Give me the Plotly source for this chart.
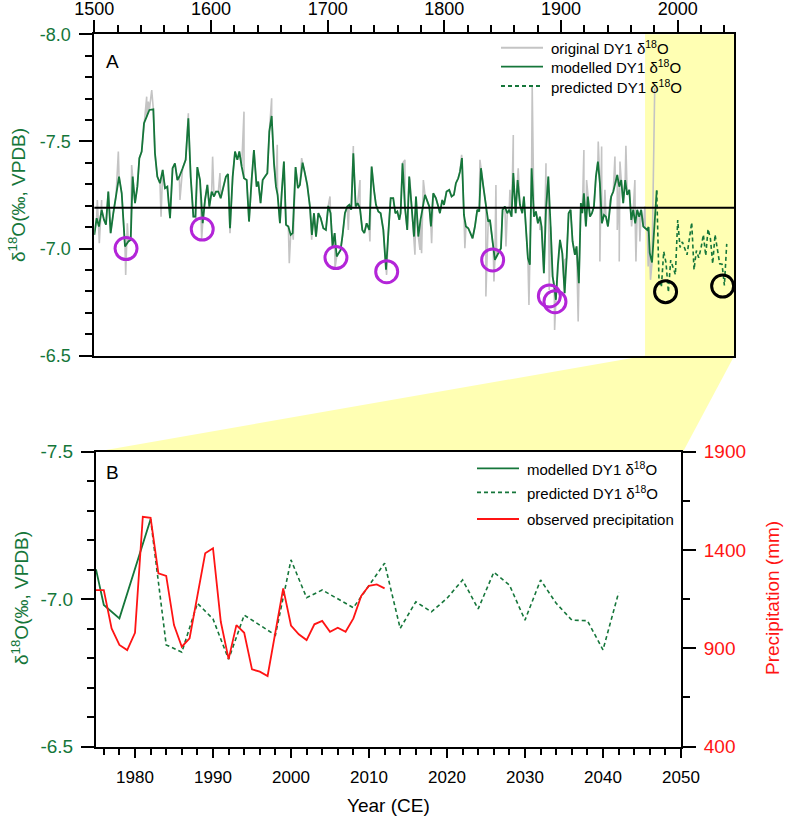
import plotly.graph_objects as go

# ---------------- data ----------------
# Panel A: modelled DY1 d18O (green solid)
model_years = [1500.0, 1502.0, 1504.0, 1506.3, 1508.3, 1510.0, 1512.0, 1514.0, 1516.3, 1518.6,
               1521.2, 1523.5, 1526.3, 1529.2, 1531.2, 1532.9, 1534.9, 1536.9, 1538.6, 1540.6,
               1542.6, 1544.9, 1547.2, 1550.6, 1552.0, 1554.0, 1556.3, 1558.6, 1560.6, 1562.6,
               1564.9, 1567.1, 1569.1, 1571.2, 1572.9, 1575.7, 1578.3, 1580.6, 1582.6, 1584.9,
               1586.6, 1588.3, 1590.6, 1592.9, 1594.9, 1596.9, 1598.6, 1600.6, 1602.6, 1604.3,
               1606.3, 1608.3, 1610.6, 1612.8, 1614.6, 1616.3, 1618.6, 1620.6, 1622.6, 1624.3,
               1626.3, 1628.3, 1630.6, 1632.6, 1634.8, 1636.8, 1639.1, 1640.5, 1642.5, 1644.3,
               1646.3, 1648.3, 1650.0, 1652.0, 1654.0, 1655.7, 1657.1, 1659.1, 1660.6, 1662.5,
               1664.3, 1666.3, 1668.3, 1670.0, 1672.5, 1674.5, 1676.2, 1678.5, 1680.5, 1682.5,
               1684.8, 1686.5, 1688.3, 1690.0, 1692.0, 1694.0, 1696.3, 1698.5, 1700.5, 1702.5,
               1704.2, 1706.0, 1707.7, 1709.4, 1711.1, 1712.8, 1714.8, 1716.8, 1718.5, 1720.2,
               1722.0, 1724.0, 1725.7, 1727.7, 1729.7, 1731.4, 1733.4, 1735.7, 1737.7, 1739.7,
               1741.4, 1743.4, 1745.4, 1747.7, 1750.0, 1752.0, 1754.0, 1756.2, 1758.0, 1759.7,
               1761.4, 1762.5, 1764.2, 1766.2, 1768.2, 1769.9, 1772.0, 1774.0, 1775.7, 1777.7,
               1779.6, 1781.4, 1783.4, 1787.1, 1788.5, 1790.5, 1792.8, 1794.8, 1796.2, 1798.2,
               1799.7, 1801.9, 1804.2, 1806.2, 1808.2, 1809.9, 1811.9, 1813.4, 1815.1, 1816.8,
               1818.5, 1820.5, 1822.5, 1824.2, 1826.2, 1828.2, 1829.9, 1831.4, 1833.4, 1835.6,
               1837.6, 1839.1, 1840.5, 1841.9, 1843.3, 1844.8, 1846.8, 1848.5, 1849.9, 1851.9,
               1853.9, 1855.6, 1857.6, 1859.1, 1861.1, 1862.8, 1864.8, 1866.8, 1868.2, 1869.9,
               1871.6, 1873.3, 1874.8, 1876.8, 1878.5, 1880.2, 1881.9, 1883.3, 1885.3, 1887.1,
               1889.1, 1891.1, 1892.8, 1894.2, 1895.6, 1897.3, 1899.1, 1901.1, 1903.1, 1904.8,
               1906.5, 1908.2, 1909.9, 1911.9, 1913.3, 1915.3, 1917.0, 1918.2, 1919.6, 1921.3,
               1923.0, 1924.8, 1926.5, 1928.2, 1929.9, 1931.6, 1933.3, 1935.0, 1936.8, 1938.5,
               1940.2, 1941.3, 1943.0, 1944.8, 1946.5, 1948.2, 1949.9, 1951.6, 1953.3, 1955.0,
               1956.7, 1958.5, 1960.2, 1961.9, 1963.6, 1965.3, 1967.0, 1968.7, 1970.5, 1972.2,
               1973.9, 1975.0, 1976.0, 1978.0, 1982.0]
model_vals = [-7.064, -7.142, -7.103, -7.181, -7.134, -7.111, -7.266, -7.072, -7.165, -7.243,
              -7.336, -7.258, -7.010, -7.033, -7.041, -7.336, -7.212, -7.289, -7.422, -7.453,
              -7.585, -7.616, -7.647, -7.650, -7.445, -7.336, -7.305, -7.367, -7.282, -7.289,
              -7.142, -7.375, -7.398, -7.320, -7.336, -7.375, -7.414, -7.608, -7.336, -7.149,
              -7.149, -7.380, -7.320, -7.118, -7.227, -7.297, -7.196, -7.266, -7.243, -7.266,
              -7.266, -7.235, -7.289, -7.336, -7.348, -7.095, -7.336, -7.453, -7.414, -7.453,
              -7.383, -7.328, -7.320, -7.126, -7.320, -7.460, -7.289, -7.313, -7.212, -7.320,
              -7.336, -7.352, -7.546, -7.619, -7.398, -7.289, -7.251, -7.118, -7.258, -7.406,
              -7.111, -7.103, -7.064, -7.072, -7.380, -7.282, -7.297, -7.401, -7.352, -7.297,
              -7.196, -7.064, -7.165, -7.056, -7.165, -7.142, -7.095, -7.087, -7.199, -7.165,
              -7.010, -7.072, -6.963, -6.978, -6.994, -7.064, -7.165, -7.196, -7.204, -7.181,
              -7.445, -7.196, -7.212, -7.188, -7.087, -7.072, -7.118, -7.087, -7.383, -7.274,
              -7.204, -7.173, -7.165, -7.087, -6.901, -7.072, -7.235, -7.235, -7.165, -7.173,
              -7.134, -7.165, -7.398, -7.196, -7.087, -7.336, -7.196, -7.056, -7.243, -7.056,
              -7.134, -7.196, -7.251, -7.196, -7.103, -7.258, -7.235, -7.196, -7.165, -7.227,
              -7.204, -7.266, -7.274, -7.243, -7.251, -7.305, -7.328, -7.359, -7.422, -7.157,
              -7.103, -7.095, -7.072, -7.048, -7.103, -7.181, -7.173, -7.375, -7.289, -7.204,
              -7.126, -7.134, -7.064, -7.002, -6.947, -6.963, -6.986, -7.002, -7.181, -7.196,
              -7.165, -7.181, -7.149, -7.352, -7.165, -7.320, -7.204, -7.165, -7.243, -7.072,
              -6.955, -6.924, -7.375, -7.149, -7.173, -7.118, -7.149, -7.103, -6.885, -7.181,
              -7.336, -7.103, -6.870, -6.823, -6.761, -6.924, -7.041, -6.978, -6.792, -6.955,
              -7.165, -7.181, -7.033, -6.971, -7.010, -6.838, -7.212, -7.165, -7.258, -7.103,
              -7.243, -7.149, -7.165, -7.196, -7.336, -7.406, -7.305, -7.118, -7.157, -7.149,
              -7.103, -7.157, -7.243, -7.266, -7.305, -7.344, -7.289, -7.320, -7.212, -7.320,
              -7.251, -7.274, -7.134, -7.181, -7.118, -7.181, -7.149, -7.181, -7.103, -7.095,
              -7.087, -7.101, -6.980, -6.935, -7.271]

# Panel A: readings where the original (grey) record departs from the modelled curve
orig_extra_years = [1502.6, 1504.3, 1506.3, 1520.6, 1526.9, 1528.3, 1532.0, 1544.9, 1546.3, 1549.2,
                    1550.6, 1557.2, 1573.4, 1580.6, 1587.1, 1592.0, 1601.4, 1607.7, 1616.3, 1628.3,
                    1652.0, 1656.8, 1667.1, 1670.5, 1677.7, 1686.3, 1702.0, 1706.3, 1717.7, 1722.0,
                    1727.7, 1736.2, 1750.5, 1766.2, 1770.5, 1774.8, 1779.1, 1780.5, 1782.0, 1789.1,
                    1814.8, 1817.6, 1830.5, 1835.6, 1842.5, 1844.2, 1852.8, 1856.2, 1859.1, 1863.3,
                    1872.5, 1875.3, 1881.9, 1887.1, 1889.9, 1894.5, 1903.3, 1914.7, 1919.6, 1921.9,
                    1931.9, 1933.3, 1934.8, 1937.6, 1941.9, 1946.2, 1948.2, 1949.9, 1950.5, 1955.6,
                    1960.5, 1963.3, 1964.2, 1967.6, 1971.9, 1974.7, 1976.7, 1980.3]
orig_extra_vals = [-7.227, -7.025, -7.227, -7.453, -6.877, -7.118, -7.390, -7.709, -7.686, -7.740,
                   -7.639, -7.149, -7.227, -7.631, -7.134, -7.041, -7.429, -7.352, -7.072, -7.639,
                   -7.701, -7.484, -6.932, -7.041, -7.422, -7.041, -7.243, -6.908, -7.087, -7.479,
                   -7.320, -7.033, -6.877, -7.414, -7.320, -6.971, -6.994, -6.978, -7.320, -7.025,
                   -7.437, -7.002, -7.414, -6.776, -6.846, -7.297, -7.010, -7.274, -7.530, -7.375,
                   -6.737, -7.756, -7.087, -7.398, -6.807, -6.620, -6.947, -6.660, -7.460, -7.320,
                   -7.500, -6.940, -7.476, -7.274, -7.227, -7.430, -7.087, -6.940, -7.406, -7.480,
                   -7.103, -7.320, -6.940, -7.033, -7.196, -6.916, -6.854, -7.750]

# Predicted DY1 d18O (green dashed), shared by both panels
pred_years = [1982, 1984, 1986, 1988, 1990, 1992, 1994, 1998, 2000, 2002, 2004, 2008, 2012, 2014,
              2016, 2018, 2020, 2022, 2024, 2026, 2028, 2030, 2032, 2034, 2036, 2038, 2040, 2042]
pred_vals = [-7.271, -6.845, -6.820, -6.986, -6.933, -6.796, -6.946, -6.878, -7.133, -7.005,
             -7.031, -6.971, -7.122, -6.901, -6.991, -6.957, -7.003, -7.065, -6.967, -7.091,
             -7.048, -6.929, -7.065, -6.986, -6.929, -6.927, -6.828, -7.022]

# Panel B: modelled d18O over the instrumental period
model_b_years = [1975, 1976, 1978, 1982]
model_b_vals = [-7.101, -6.980, -6.935, -7.271]

# Panel B: observed precipitation (mm)
obs_years = [1975, 1976, 1977, 1978, 1979, 1980, 1981, 1982, 1983, 1984, 1985, 1986, 1987, 1989,
             1990, 1991, 1992, 1993, 1994, 1995, 1996, 1997, 1999, 2000, 2001, 2002, 2003, 2004,
             2005, 2006, 2007, 2008, 2009, 2010, 2011, 2012]
obs_precip = [1196, 1196, 1001, 917, 891, 979, 1569, 1564, 1281, 1268, 1018, 908, 951, 1383,
              1409, 1035, 845, 1018, 979, 793, 781, 759, 1205, 1016, 971, 942, 1022, 1039,
              984, 1005, 984, 1052, 1166, 1218, 1225, 1205]

# Mean of the record (horizontal reference line), highlighted minima
mean_value = -7.19
min_circle_years = [1527.2, 1592.5, 1707.1, 1750.6, 1841.4, 1890.0, 1894.8]
min_circle_vals = [-7.000, -7.091, -6.958, -6.892, -6.947, -6.779, -6.752]
pred_circle_years = [1989.6, 2038.5]
pred_circle_vals = [-6.799, -6.825]

# Zoom window shown in panel B
window_start_a = 1972
a_x_range = [1500, 2048.5]
a_y_ticks = [-8.0, -7.5, -7.0, -6.5]
a_x_ticks = [1500, 1600, 1700, 1800, 1900, 2000]
b_x_range = [1975, 2050]
b_x_ticks = [1980, 1990, 2000, 2010, 2020, 2030, 2040, 2050]
b_y_ticks = [-7.5, -7.0, -6.5]
b_p_ticks = [400, 900, 1400, 1900]

# ---------------- styling ----------------
W, H = 787, 827
GREEN = "#15763a"
RED = "#ff1414"
GREY = "#c4c4c4"
PURPLE = "#b325d8"
YELLOW = "#ffffb3"
FONT = "Liberation Sans, Arial, sans-serif"
DASH = "4px,3px"

# plot areas in window pixels (left, right, top, bottom)
A_L, A_R, A_T, A_B = 94.3, 734.3, 34.3, 355.7
B_L, B_R, B_T, B_B = 96.0, 681.0, 451.7, 746.6

def px_x(p):
    return p / W

def px_y(p):
    return 1 - p / H

# grey record: modelled readings plus the departures
orig_pairs = sorted(list(zip(model_years[:-1], model_vals[:-1])) + list(zip(orig_extra_years, orig_extra_vals)))
orig_years = [p[0] for p in orig_pairs]
orig_vals = [p[1] for p in orig_pairs]

fig = go.Figure()

# ---- Panel A ----
fig.add_trace(go.Scatter(x=orig_years, y=orig_vals, mode="lines", line=dict(color=GREY, width=1.6),
                         xaxis="x", yaxis="y", showlegend=False, name="original DY1 δ18O"))
fig.add_trace(go.Scatter(x=model_years, y=model_vals, mode="lines", line=dict(color=GREEN, width=1.8),
                         xaxis="x", yaxis="y", showlegend=False, name="modelled DY1 δ18O"))
fig.add_trace(go.Scatter(x=pred_years, y=pred_vals, mode="lines", line=dict(color=GREEN, width=1.6, dash=DASH),
                         xaxis="x", yaxis="y", showlegend=False, name="predicted DY1 δ18O"))
fig.add_trace(go.Scatter(x=min_circle_years, y=min_circle_vals, mode="markers",
                         marker=dict(symbol="circle-open", size=22, color=PURPLE, line=dict(width=3, color=PURPLE)),
                         xaxis="x", yaxis="y", showlegend=False))
fig.add_trace(go.Scatter(x=pred_circle_years, y=pred_circle_vals, mode="markers",
                         marker=dict(symbol="circle-open", size=22, color="black", line=dict(width=3, color="black")),
                         xaxis="x", yaxis="y", showlegend=False))

# ---- Panel B ----
fig.add_trace(go.Scatter(x=model_b_years, y=model_b_vals, mode="lines", line=dict(color=GREEN, width=1.8),
                         xaxis="x2", yaxis="y2", showlegend=False))
fig.add_trace(go.Scatter(x=pred_years, y=pred_vals, mode="lines", line=dict(color=GREEN, width=1.6, dash=DASH),
                         xaxis="x2", yaxis="y2", showlegend=False))
fig.add_trace(go.Scatter(x=obs_years, y=obs_precip, mode="lines", line=dict(color=RED, width=1.8),
                         xaxis="x2", yaxis="y3", showlegend=False))

axis_common = dict(showline=True, linecolor="black", linewidth=2, showgrid=False, zeroline=False,
                   ticks="outside", tickcolor="black", tickwidth=1.5, automargin=False)

fig.update_layout(
    width=W, height=H, margin=dict(l=0, r=0, t=0, b=0, autoexpand=False),
    paper_bgcolor="white", plot_bgcolor="rgba(0,0,0,0)",
    font=dict(family=FONT, color="black"),
    xaxis=dict(**axis_common, domain=[px_x(A_L), px_x(A_R)], range=a_x_range, side="top", anchor="y",
               mirror=True, tickvals=a_x_ticks, ticktext=[str(v) for v in a_x_ticks], ticklen=12,
               ticklabelstandoff=-2, tickfont=dict(size=18, color="black"),
               minor=dict(dtick=20, tick0=1500, ticklen=7, ticks="outside", tickcolor="black", tickwidth=1.5)),
    yaxis=dict(**axis_common, domain=[px_y(A_B), px_y(A_T)], range=[-6.5, -8.0], anchor="x", mirror=True,
               tickvals=a_y_ticks, ticktext=[f"{v:.1f}" for v in a_y_ticks], ticklen=13,
               ticklabelstandoff=5, tickfont=dict(size=18, color=GREEN),
               minor=dict(dtick=0.1, tick0=-8.0, ticklen=7, ticks="outside", tickcolor="black", tickwidth=1.5)),
    xaxis2=dict(**axis_common, domain=[px_x(B_L), px_x(B_R)], range=b_x_range, anchor="y2", mirror=True,
                tickvals=b_x_ticks, ticktext=[str(v) for v in b_x_ticks], ticklen=9,
                ticklabelstandoff=5, tickfont=dict(size=17, color="black"),
                minor=dict(dtick=2, tick0=1976, ticklen=6, ticks="outside", tickcolor="black", tickwidth=1.5)),
    yaxis2=dict(**axis_common, domain=[px_y(B_B), px_y(B_T)], range=[-6.5, -7.5], anchor="x2",
                tickvals=b_y_ticks, ticktext=[f"{v:.1f}" for v in b_y_ticks], ticklen=13,
                ticklabelstandoff=4, tickfont=dict(size=19, color=GREEN),
                minor=dict(dtick=0.1, tick0=-7.5, ticklen=7, ticks="outside", tickcolor="black", tickwidth=1.5)),
    yaxis3=dict(**axis_common, domain=[px_y(B_B), px_y(B_T)], range=[400, 1900], anchor="x2",
                overlaying="y2", side="right",
                tickvals=b_p_ticks, ticktext=[str(v) for v in b_p_ticks], ticklen=13,
                ticklabelstandoff=4, tickfont=dict(size=19, color=RED),
                minor=dict(dtick=250, tick0=400, ticklen=7, ticks="outside", tickcolor="black", tickwidth=1.5)),
)

shapes = []
# yellow window in panel A
shapes.append(dict(type="rect", xref="x", yref="y domain", x0=window_start_a, x1=a_x_range[1], y0=0, y1=1,
                   fillcolor=YELLOW, line=dict(width=0), layer="below"))
# mean line
shapes.append(dict(type="line", xref="x domain", yref="y", x0=0, x1=1, y0=mean_value, y1=mean_value,
                   line=dict(color="black", width=2)))
# connecting trapezoid between the panels
ax_frac = (window_start_a - a_x_range[0]) / (a_x_range[1] - a_x_range[0])
xa0 = px_x(A_L) + ax_frac * (px_x(A_R) - px_x(A_L))
path = (f"M {xa0},{px_y(A_B)} L {px_x(A_R)},{px_y(A_B)} L {px_x(B_R + 2)},{px_y(B_T)} "
        f"L {px_x(B_L)},{px_y(B_T)} Z")
shapes.append(dict(type="path", xref="paper", yref="paper", path=path, fillcolor=YELLOW,
                   line=dict(width=0), layer="below"))

# legends drawn as short sample lines
def legend_line(x0, x1, y, color, dash="solid", width=1.8):
    return dict(type="line", xref="paper", yref="paper", x0=px_x(x0), x1=px_x(x1), y0=px_y(y), y1=px_y(y),
                line=dict(color=color, width=width, dash=dash))

shapes += [legend_line(501, 543, 47.7, GREY, width=2),
           legend_line(501, 543, 66.7, GREEN),
           legend_line(501, 543, 86, GREEN, dash=DASH),
           legend_line(477, 519, 468.3, GREEN),
           legend_line(477, 519, 492.3, GREEN, dash=DASH),
           legend_line(477, 519, 519, RED)]
fig.update_layout(shapes=shapes)

def note(x, y, text, size, color="black", angle=0, xanchor="left"):
    return dict(xref="paper", yref="paper", x=px_x(x), y=px_y(y), text=text, showarrow=False,
                font=dict(size=size, color=color, family=FONT), textangle=angle,
                xanchor=xanchor, yanchor="middle")

annotations = [
    note(549, 47.7, "original DY1 δ<sup>18</sup>O", 15),
    note(549, 66.7, "modelled DY1 δ<sup>18</sup>O", 15),
    note(549, 86, "predicted DY1 δ<sup>18</sup>O", 15),
    note(525, 468.3, "modelled DY1 δ<sup>18</sup>O", 15),
    note(525, 492.3, "predicted DY1 δ<sup>18</sup>O", 15),
    note(525, 519, "observed precipitation", 15),
    note(104, 61.7, "A", 19),
    note(104, 472.3, "B", 19),
    note(17, 195, "δ<sup>18</sup>O(‰, VPDB)", 19, GREEN, -90, "center"),
    note(20, 598, "δ<sup>18</sup>O(‰, VPDB)", 19, GREEN, -90, "center"),
    note(772, 598, "Precipitation (mm)", 19, RED, -90, "center"),
    note(388, 805, "Year (CE)", 19, "black", 0, "center"),
]
fig.update_layout(annotations=annotations)

# place the figure flush with the window's top-left corner (no default page margin), no toolbar
fig.write_html("out.html", config={"displayModeBar": False},
               post_script="document.body.style.margin='0';")
